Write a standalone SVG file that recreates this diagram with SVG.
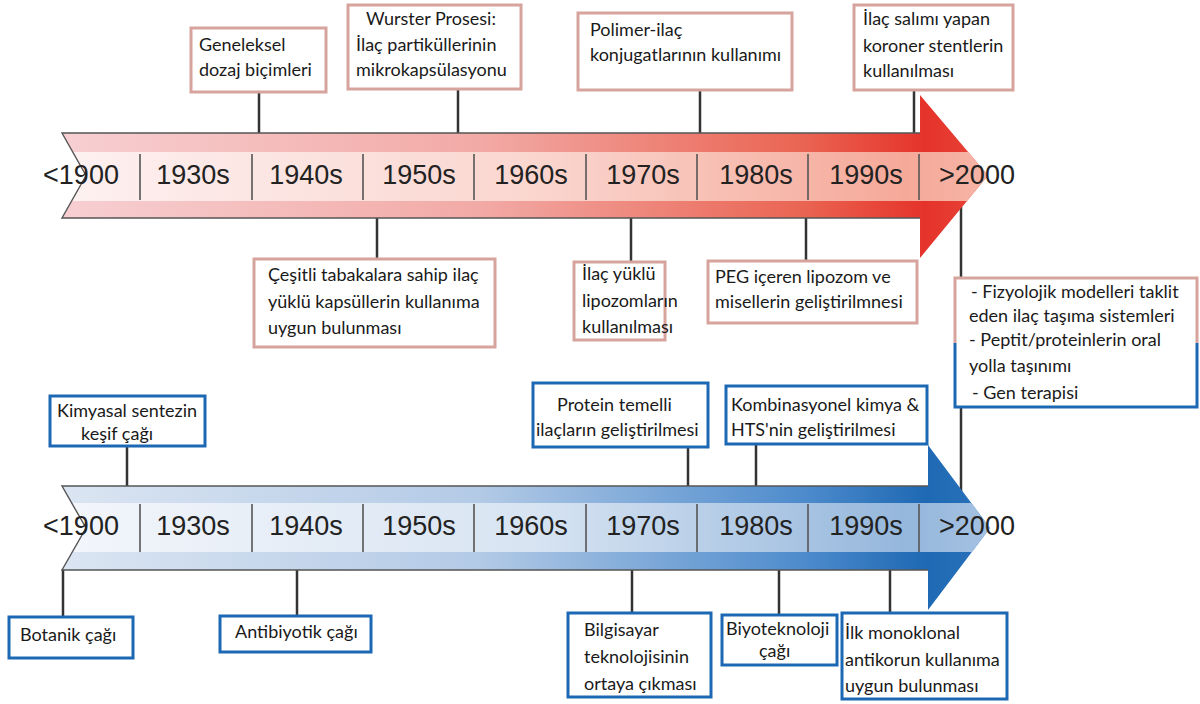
<svg xmlns="http://www.w3.org/2000/svg" width="1200" height="704" viewBox="0 0 1200 704">
<defs>
<linearGradient id="rOuter" x1="62" y1="0" x2="990" y2="0" gradientUnits="userSpaceOnUse">
<stop offset="0" stop-color="#f7cfd2"/><stop offset="0.45" stop-color="#f2aaa6"/><stop offset="0.8" stop-color="#ea6452"/><stop offset="0.93" stop-color="#e5332a"/><stop offset="1" stop-color="#e8453a"/>
</linearGradient>
<linearGradient id="rBand" x1="62" y1="0" x2="1000" y2="0" gradientUnits="userSpaceOnUse">
<stop offset="0" stop-color="#fdf1f1"/><stop offset="0.5" stop-color="#fad6cf"/><stop offset="0.9" stop-color="#f5a999"/><stop offset="1" stop-color="#f6b6a8"/>
</linearGradient>
<linearGradient id="bOuter" x1="62" y1="0" x2="990" y2="0" gradientUnits="userSpaceOnUse">
<stop offset="0" stop-color="#dbe5f2"/><stop offset="0.45" stop-color="#b3cae6"/><stop offset="0.8" stop-color="#4d8bcc"/><stop offset="0.93" stop-color="#1f69b4"/><stop offset="1" stop-color="#2a72ba"/>
</linearGradient>
<linearGradient id="bBand" x1="62" y1="0" x2="1000" y2="0" gradientUnits="userSpaceOnUse">
<stop offset="0" stop-color="#f3f6fb"/><stop offset="0.5" stop-color="#d8e4f2"/><stop offset="0.9" stop-color="#95b7dc"/><stop offset="1" stop-color="#a6c2e2"/>
</linearGradient>
<clipPath id="clipTop"><polygon points="62,133 920,133 920,95 988,175.5 920,258 920,218 62,218 86,175.5"/></clipPath>
<clipPath id="clipBot"><polygon points="62,486 928,486 928,445 990,528 928,610 928,570 62,570 86,528"/></clipPath>
</defs>
<style>
.yr{font-family:"Liberation Sans",Arial,sans-serif;font-size:27px;fill:#222;text-anchor:middle}
.t{font-family:Lato,"Noto Sans",sans-serif;font-size:18px;fill:#1a1a1a}
.bp{fill:#fff;stroke:#d6a49c;stroke-width:3}
.bb{fill:#fff;stroke:#1d68b4;stroke-width:3}
.c{stroke:#333;stroke-width:2.5;fill:none}
.dv{stroke:#555;stroke-width:1.6}
.ol{fill:none;stroke:#555;stroke-width:1.4}
</style>

<g id="connectors">
<line class="c" x1="259" y1="92" x2="259" y2="134"/>
<line class="c" x1="458" y1="89" x2="458" y2="134"/>
<line class="c" x1="700" y1="90" x2="700" y2="134"/>
<line class="c" x1="914" y1="90" x2="914" y2="134"/>
<line class="c" x1="377" y1="217" x2="377" y2="259"/>
<line class="c" x1="631" y1="217" x2="631" y2="262"/>
<line class="c" x1="806" y1="217" x2="806" y2="261"/>
<line class="c" x1="961" y1="200" x2="961" y2="278"/>
<line class="c" x1="961" y1="407" x2="961" y2="495"/>
<line class="c" x1="127" y1="446" x2="127" y2="487"/>
<line class="c" x1="688" y1="447" x2="688" y2="487"/>
<line class="c" x1="756" y1="444" x2="756" y2="487"/>
<line class="c" x1="63" y1="569" x2="63" y2="627"/>
<line class="c" x1="297" y1="569" x2="297" y2="627"/>
<line class="c" x1="632" y1="569" x2="632" y2="626"/>
<line class="c" x1="779" y1="569" x2="779" y2="617"/>
<line class="c" x1="890" y1="569" x2="890" y2="613"/>
</g>

<g id="arrow-top">
<polygon points="62,133 920,133 920,95 988,175.5 920,258 920,218 62,218 86,175.5" fill="url(#rOuter)"/>
<rect x="40" y="152" width="980" height="49" fill="url(#rBand)" clip-path="url(#clipTop)"/>
<polyline class="ol" points="920,133 62,133 86,175.5 62,218 920,218"/>
<g class="dv">
<line x1="140" y1="154" x2="140" y2="200"/><line x1="252" y1="154" x2="252" y2="200"/><line x1="363" y1="154" x2="363" y2="200"/><line x1="474" y1="154" x2="474" y2="200"/><line x1="586" y1="154" x2="586" y2="200"/><line x1="697" y1="154" x2="697" y2="200"/><line x1="808" y1="154" x2="808" y2="200"/><line x1="919" y1="154" x2="919" y2="200"/>
</g>
<text class="yr" x="81" y="184">&lt;1900</text>
<text class="yr" x="193" y="184">1930s</text>
<text class="yr" x="306" y="184">1940s</text>
<text class="yr" x="419" y="184">1950s</text>
<text class="yr" x="531" y="184">1960s</text>
<text class="yr" x="643" y="184">1970s</text>
<text class="yr" x="756" y="184">1980s</text>
<text class="yr" x="866" y="184">1990s</text>
<text class="yr" x="977" y="184">&gt;2000</text>
</g>

<g id="arrow-bottom">
<polygon points="62,486 928,486 928,445 990,528 928,610 928,570 62,570 86,528" fill="url(#bOuter)"/>
<rect x="40" y="503" width="980" height="49" fill="url(#bBand)" clip-path="url(#clipBot)"/>
<polyline class="ol" points="928,486 62,486 86,528 62,570 928,570"/>
<g class="dv">
<line x1="140" y1="504" x2="140" y2="552"/><line x1="252" y1="504" x2="252" y2="552"/><line x1="363" y1="504" x2="363" y2="552"/><line x1="474" y1="504" x2="474" y2="552"/><line x1="586" y1="504" x2="586" y2="552"/><line x1="697" y1="504" x2="697" y2="552"/><line x1="808" y1="504" x2="808" y2="552"/><line x1="919" y1="504" x2="919" y2="552"/>
</g>
<text class="yr" x="81" y="535">&lt;1900</text>
<text class="yr" x="193" y="535">1930s</text>
<text class="yr" x="306" y="535">1940s</text>
<text class="yr" x="419" y="535">1950s</text>
<text class="yr" x="531" y="535">1960s</text>
<text class="yr" x="643" y="535">1970s</text>
<text class="yr" x="756" y="535">1980s</text>
<text class="yr" x="866" y="535">1990s</text>
<text class="yr" x="977" y="535">&gt;2000</text>
</g>

<g id="n-geleneksel"><rect class="bp" x="191" y="28" width="135" height="64"/>
<text class="t" x="199" y="51">Geneleksel</text><text class="t" x="199" y="76">dozaj biçimleri</text></g>
<g id="n-wurster"><rect class="bp" x="348" y="5" width="173" height="84"/>
<text class="t" x="366" y="25">Wurster Prosesi:</text><text class="t" x="356" y="51">İlaç partiküllerinin</text><text class="t" x="356" y="76">mikrokapsülasyonu</text></g>
<g id="n-polimer"><rect class="bp" x="578" y="13" width="214" height="77"/>
<text class="t" x="590" y="36">Polimer-ilaç</text><text class="t" x="590" y="61">konjugatlarının kullanımı</text></g>
<g id="n-stent"><rect class="bp" x="854" y="5" width="159" height="85"/>
<text class="t" x="863" y="25">İlaç salımı yapan</text><text class="t" x="863" y="52">koroner stentlerin</text><text class="t" x="863" y="77">kullanılması</text></g>
<g id="n-kapsul"><rect class="bp" x="254" y="259" width="241" height="88"/>
<text class="t" x="268" y="281">Çeşitli tabakalara sahip ilaç</text><text class="t" x="268" y="308">yüklü kapsüllerin kullanıma</text><text class="t" x="268" y="334">uygun bulunması</text></g>
<g id="n-lipozom"><rect class="bp" x="574" y="262" width="91" height="78"/>
<text class="t" x="582" y="280">İlaç yüklü</text><text class="t" x="582" y="307">lipozomların</text><text class="t" x="582" y="333">kullanılması</text></g>
<g id="n-peg"><rect class="bp" x="708" y="261" width="209" height="62"/>
<text class="t" x="715" y="283">PEG içeren lipozom ve</text><text class="t" x="715" y="308">misellerin geliştirilmnesi</text></g>
<g id="n-future">
<rect x="955" y="278" width="242" height="129" fill="#fff"/>
<polyline fill="none" stroke="#d6a49c" stroke-width="3" points="955,343 955,278 1197,278 1197,343"/>
<polyline fill="none" stroke="#1d68b4" stroke-width="3" points="955,343 955,407 1197,407 1197,343"/>
<text class="t" x="971" y="298">- Fizyolojik modelleri taklit</text><text class="t" x="969" y="322">eden ilaç taşıma sistemleri</text><text class="t" x="969" y="346">- Peptit/proteinlerin oral</text><text class="t" x="969" y="372">yolla taşınımı</text><text class="t" x="972" y="399">- Gen terapisi</text></g>

<g id="n-kimyasal"><rect class="bb" x="50" y="396" width="155" height="50"/>
<text class="t" x="57" y="417">Kimyasal sentezin</text><text class="t" x="81" y="440">keşif çağı</text></g>
<g id="n-protein"><rect class="bb" x="533" y="383" width="175" height="64"/>
<text class="t" x="557" y="411">Protein temelli</text><text class="t" x="536" y="436">ilaçların geliştirilmesi</text></g>
<g id="n-kombi"><rect class="bb" x="726" y="386" width="201" height="58"/>
<text class="t" x="731" y="411">Kombinasyonel kimya &amp;</text><text class="t" x="731" y="436">HTS'nin geliştirilmesi</text></g>
<g id="n-botanik"><rect class="bb" x="9" y="617" width="124" height="41"/>
<text class="t" x="20" y="641">Botanik çağı</text></g>
<g id="n-antibiyotik"><rect class="bb" x="220" y="616" width="151" height="36"/>
<text class="t" x="235" y="638">Antibiyotik çağı</text></g>
<g id="n-bilgisayar"><rect class="bb" x="568" y="613" width="143" height="84"/>
<text class="t" x="584" y="636">Bilgisayar</text><text class="t" x="584" y="663">teknolojisinin</text><text class="t" x="584" y="690">ortaya çıkması</text></g>
<g id="n-biyotek"><rect class="bb" x="722" y="615" width="115" height="50"/>
<text class="t" x="726" y="635">Biyoteknoloji</text><text class="t" x="759" y="657">çağı</text></g>
<g id="n-monoklonal"><rect class="bb" x="842" y="613" width="165" height="86"/>
<text class="t" x="845" y="639">İlk monoklonal</text><text class="t" x="845" y="666">antikorun kullanıma</text><text class="t" x="845" y="692">uygun bulunması</text></g>
</svg>
